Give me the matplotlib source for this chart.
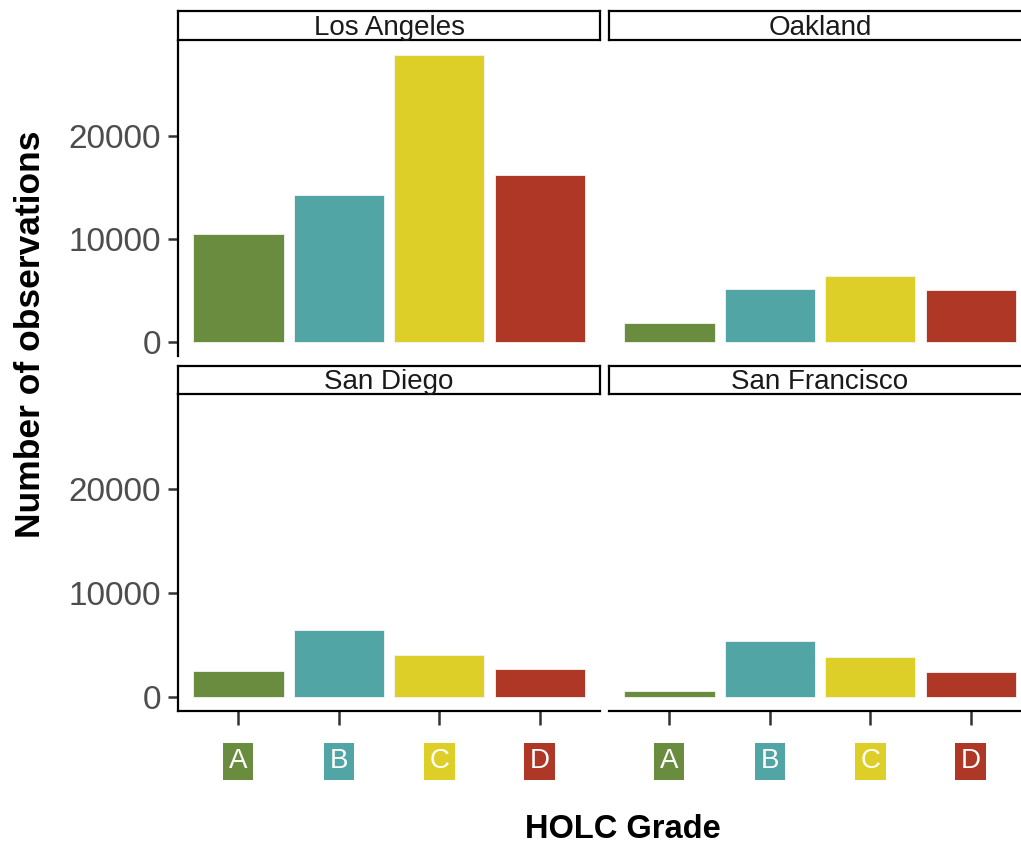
import matplotlib
matplotlib.use("Agg")
import matplotlib.pyplot as plt

plt.rcParams['font.family'] = ['Liberation Sans', 'DejaVu Sans']

grades = ["A", "B", "C", "D"]
cities = ["Los Angeles", "Oakland", "San Diego", "San Francisco"]
la = [10430, 14270, 27830, 16180]
oakland = [1790, 5120, 6380, 5050]
san_diego = [2460, 6400, 3980, 2650]
san_francisco = [545, 5370, 3820, 2360]
yticks = [0, 10000, 20000]
colors = ["#6A8C3F", "#52A5A5", "#DDCF28", "#AE3726"]

W, H = 1021, 848
fig = plt.figure(figsize=(W / 100, H / 100), dpi=100)

def fx(px):
    return px / W

def fy(py):
    return 1 - py / H

panel_w = 422
cols = [178, 609]
rows = [(41, 356), (394, 711)]
strips = [(11, 40), (366, 394)]
data = [la, oakland, san_diego, san_francisco]

maxv = max(max(d) for d in data)
ylo, yhi = -0.05 * maxv, 1.05 * maxv

for i, (city, vals) in enumerate(zip(cities, data)):
    r, c = divmod(i, 2)
    top, bot = rows[r]
    left = cols[c]
    ax = fig.add_axes([fx(left), fy(bot), panel_w / W, (bot - top) / H])
    x = list(range(1, 5))
    ax.bar(x, vals, width=0.9, color=colors, edgecolor="#f4f4f4", linewidth=0.6)
    ax.set_xlim(0.4, 4.6)
    ax.set_ylim(ylo, yhi)
    for s in ["top", "right"]:
        ax.spines[s].set_visible(False)
    ax.spines["left"].set_visible(c == 0)
    ax.spines["bottom"].set_visible(r == 1)
    for s in ["left", "bottom"]:
        ax.spines[s].set_linewidth(1.6)
        ax.spines[s].set_color("black")
    if c == 0:
        ax.set_yticks(yticks)
        ax.set_yticklabels([str(v) for v in yticks], fontsize=24, color="#4D4D4D")
        ax.tick_params(axis="y", length=7, width=1.8, color="#333333", pad=5)
    else:
        ax.set_yticks([])
    if r == 1:
        ax.set_xticks(x)
        ax.set_xticklabels(grades, fontsize=20, color="white")
        ax.tick_params(axis="x", length=10, width=1.8, color="#333333", pad=17)
        for lbl, col in zip(ax.get_xticklabels(), colors):
            lbl.set_bbox(dict(facecolor=col, edgecolor="none", pad=4.0))
    else:
        ax.set_xticks([])
    # strip
    st, sb = strips[r]
    sax = fig.add_axes([fx(left), fy(sb), panel_w / W, (sb - st) / H])
    sax.set_xticks([])
    sax.set_yticks([])
    for s in sax.spines.values():
        s.set_linewidth(1.6)
        s.set_color("black")
    sax.text(0.5, 0.42, city, ha="center", va="center", fontsize=20, color="#1A1A1A",
             transform=sax.transAxes)

fig.text(fx(31), fy(334), "Number of observations", rotation=90, ha="center", va="center",
         fontsize=25.5, fontweight="bold", color="black")
fig.text(fx(623), fy(830), "HOLC Grade", ha="center", va="center",
         fontsize=23.5, fontweight="bold", color="black")

fig.savefig("out.png", dpi=100)
